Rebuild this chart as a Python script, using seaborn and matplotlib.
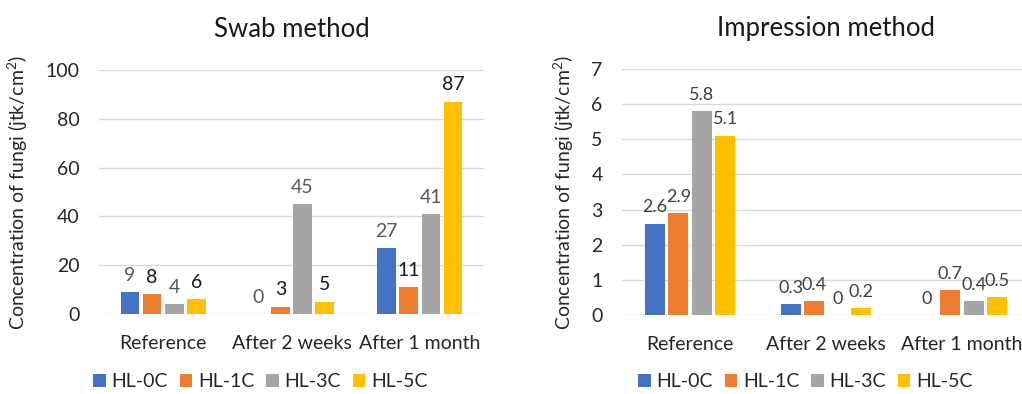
import numpy as np
import pandas as pd
import matplotlib
matplotlib.use("Agg")
import matplotlib.pyplot as plt
import seaborn as sns
from matplotlib.patches import Patch

# Data
periods = ["Reference", "After 2 weeks", "After 1 month"]
samples = ["HL-0C", "HL-1C", "HL-3C", "HL-5C"]
swab = {
    "HL-0C": [9, 0, 27],
    "HL-1C": [8, 3, 11],
    "HL-3C": [4, 45, 41],
    "HL-5C": [6, 5, 87],
}
impression = {
    "HL-0C": [2.6, 0.3, 0],
    "HL-1C": [2.9, 0.4, 0.7],
    "HL-3C": [5.8, 0, 0.4],
    "HL-5C": [5.1, 0.2, 0.5],
}
palette = ["#4472C4", "#ED7D31", "#A5A5A5", "#FFC000"]
ylabel = "Concentration of fungi (jtk/cm$^2$)"

sns.set_theme(style="white")
plt.rcParams["font.family"] = ["Lato", "DejaVu Sans"]
plt.rcParams["mathtext.fontset"] = "custom"
plt.rcParams["mathtext.rm"] = "Lato"

W, H = 1022, 394
fig = plt.figure(figsize=(W / 100, H / 100), dpi=100)


def long_frame(d):
    rows = []
    for s in samples:
        for p, v in zip(periods, d[s]):
            rows.append({"period": p, "sample": s, "value": v})
    return pd.DataFrame(rows)


def draw(rect, data, title, ymax, step, label_colors, fmt, label_size):
    ax = fig.add_axes(rect)
    df = long_frame(data)
    sns.barplot(data=df, x="period", y="value", hue="sample", order=periods,
                hue_order=samples, palette=palette, width=0.69, ax=ax,
                legend=False, saturation=1, errorbar=None)
    # leave a small gap between neighbouring bars
    for cont in ax.containers:
        for p in cont.patches:
            w = p.get_width()
            p.set_x(p.get_x() + w * 0.08)
            p.set_width(w * 0.84)
            p.set_linewidth(0)
    for cont, col in zip(ax.containers, label_colors):
        ax.bar_label(cont, fmt=fmt, padding=6, fontsize=label_size, color=col)
    ax.set_ylim(0, ymax)
    ax.set_yticks(np.arange(0, ymax + step / 2, step))
    ax.set_xlim(-0.5, 2.5)
    ax.grid(axis="y", color="#D9D9D9", linewidth=1)
    ax.set_axisbelow(True)
    for s in ax.spines.values():
        s.set_visible(False)
    ax.tick_params(axis="both", length=0, labelsize=14, colors="#262626")
    ax.tick_params(axis="y", pad=14)
    ax.tick_params(axis="x", pad=15)
    ax.set_xlabel("")
    ax.set_ylabel(ylabel, fontsize=14, color="#262626", labelpad=11)
    ax.set_title(title, fontsize=18.5, color="#1a1a1a", pad=24)
    return ax


ax1 = draw([99 / W, 80 / H, 385 / W, 244 / H], swab, "Swab method", 100, 20,
           ["#595959", "#1a1a1a", "#595959", "#1a1a1a"], "{:g}", 14)
ax2 = draw([622 / W, 79 / H, 408 / W, 246 / H], impression, "Impression method", 7, 1,
           ["#404040"] * 4, "{:g}", 13)

# Legends under each chart
handles = [Patch(facecolor=c, edgecolor="none") for c in palette]
for x0 in (88 / W, 633 / W):
    fig.legend(handles, samples, loc="lower left", bbox_to_anchor=(x0 - 0.012, -0.035),
               ncol=4, frameon=False, fontsize=14, handlelength=0.65, handleheight=0.65,
               columnspacing=0.6, handletextpad=0.3, labelcolor="#262626")

fig.savefig("out.png", dpi=100)
